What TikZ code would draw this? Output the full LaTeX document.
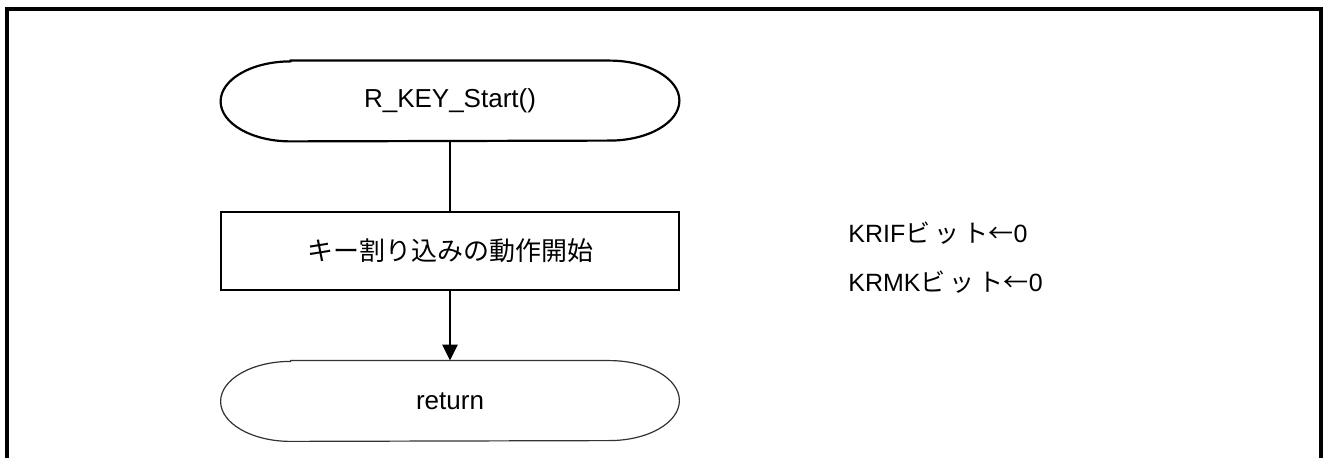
\documentclass[tikz,border=0pt]{standalone}
\usepackage{fontspec}
\setmainfont{Liberation Sans}
\newfontfamily\jp{Noto Sans CJK JP}
\usetikzlibrary{arrows.meta}
\tikzset{
  termbox/.style={minimum width=229pt, minimum height=40pt, inner sep=0pt, font=\fontsize{13pt}{15pt}\selectfont},
  procbox/.style={draw, line width=1.1pt, minimum width=229pt, minimum height=39pt, inner sep=0pt, font=\fontsize{13pt}{15pt}\selectfont},
  note/.style={anchor=west, inner sep=0pt, font=\fontsize{12.5pt}{15pt}\selectfont},
  flow/.style={line width=1.2pt},
  frame/.style={line width=1.8pt}
}
\newcommand{\termshape}[2]{%
  \draw[#2] ([xshift=35pt]#1.north west) -- ([xshift=-35pt]#1.north east)
    arc[start angle=90, end angle=-90, x radius=35pt, y radius=20pt]
    -- ([xshift=35pt]#1.south west)
    arc[start angle=270, end angle=90, x radius=35pt, y radius=20pt] -- cycle;}
\begin{document}
\begin{tikzpicture}[x=0.5pt, y=-0.5pt]
\useasboundingbox (0,0) rectangle (1327,458);
\draw[frame] (7,470) -- (7,9) -- (1321,9) -- (1321,470);
\node[termbox] (start) at (450,101) {R\_KEY\_Start()};
\termshape{start}{line width=1.1pt}
\node[procbox] (proc) at (450,251) {\jp キー割り込みの動作開始};
\node[termbox] (ret) at (450,401) {return};
\termshape{ret}{line width=0.6pt, draw=black!80}
\draw[flow] (start.south) -- (proc.north);
\draw[flow, -{Triangle[width=7.5pt,length=8pt]}] (proc.south) -- (ret.north);
\node[note] (n1) at (848,233) {KRIF{\jp ビ\,ッ\,ト←}0};
\node[note] (n2) at (848,282) {KRMK{\jp ビ\,ッ\,ト←}0};
\end{tikzpicture}
\end{document}
